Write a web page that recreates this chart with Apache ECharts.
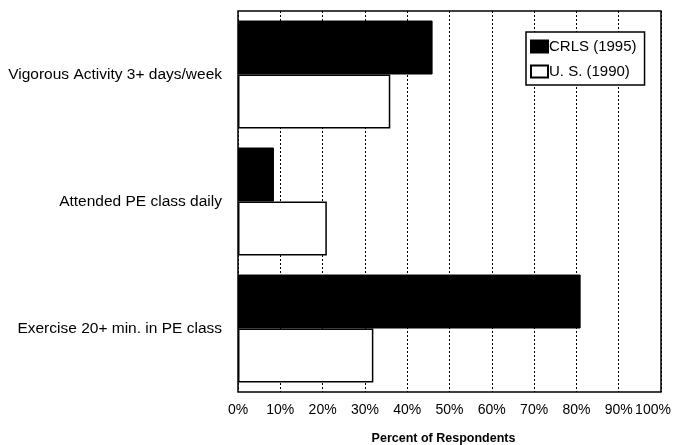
<!DOCTYPE html>
<html>
<head>
<meta charset="utf-8">
<script src="https://cdn.jsdelivr.net/npm/echarts@6/dist/echarts.min.js"></script>
<style>
  html, body { margin: 0; padding: 0; background: #fff; }
  #chart { width: 673px; height: 445px; }
</style>
</head>
<body>
<div id="chart"></div>
<script>
// categories top to bottom
const categories = ["Vigorous Activity 3+ days/week", "Attended PE class daily", "Exercise 20+ min. in PE class"];
const crls = [46, 8.5, 81];   // CRLS (1995)
const us = [36, 21, 32];      // U. S. (1990)

const myChart = echarts.init(document.getElementById("chart"));
const font = "Liberation Sans, Arial, sans-serif";

myChart.setOption({
  animation: false,
  textStyle: { fontFamily: font, color: "#000" },
  grid: {
    left: 238,
    right: 12,
    top: 11,
    bottom: 53,
    outerBoundsMode: "none",
    containLabel: false,
    show: true,
    borderColor: "#000",
    borderWidth: 1.5,
  },
  legend: {
    orient: "vertical",
    left: 526,
    top: 32,
    itemWidth: 17,
    itemHeight: 12,
    itemGap: 10,
    padding: [7, 8, 6, 4],
    borderColor: "#000",
    borderWidth: 1.5,
    backgroundColor: "#fff",
    icon: "rect",
    textStyle: { fontFamily: font, fontSize: 15, color: "#000", padding: [0, 0, 0, -4] },
    data: ["CRLS (1995)", "U. S. (1990)"],
  },
  xAxis: {
    type: "value",
    min: 0,
    max: 100,
    interval: 10,
    name: "Percent of Respondents",
    nameLocation: "middle",
    nameGap: 40,
    nameTextStyle: { fontSize: 12.5, fontWeight: "bold", color: "#000", padding: [0, 12, 0, 0] },
    axisLine: { show: false },
    axisTick: { show: false },
    axisLabel: {
      // last label nudged left so it stays inside the window
      formatter: (v) => (v === 100 ? "{last|100%}" : v + "%"),
      fontSize: 14,
      color: "#000",
      margin: 11,
      rich: {
        last: { fontSize: 14, color: "#000", fontFamily: font, padding: [0, 16, 0, 0] },
      },
    },
    splitLine: { show: true, lineStyle: { color: "#000", type: [2, 2], width: 1 } },
  },
  yAxis: {
    type: "category",
    inverse: true,
    data: categories,
    axisLine: { show: false },
    axisTick: { show: false },
    axisLabel: { fontSize: 15.5, color: "#000", margin: 16 },
  },
  series: [
    {
      name: "CRLS (1995)",
      type: "bar",
      data: crls,
      barGap: "0%",
      barCategoryGap: "15%",
      itemStyle: { color: "#000", borderColor: "#000", borderWidth: 1 },
    },
    {
      name: "U. S. (1990)",
      type: "bar",
      data: us,
      itemStyle: { color: "#fff", borderColor: "#000", borderWidth: 1.5 },
    },
  ],
});
</script>
</body>
</html>
